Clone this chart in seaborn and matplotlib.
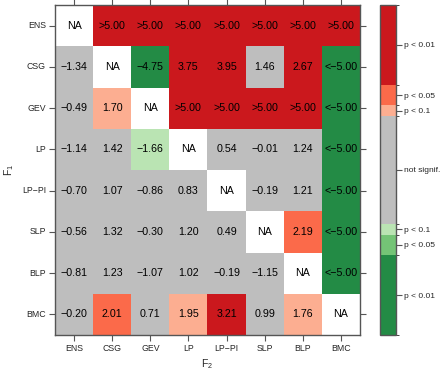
import numpy as np
import pandas as pd
import matplotlib
matplotlib.use('Agg')
import matplotlib.pyplot as plt
import seaborn as sns
from matplotlib.colors import ListedColormap, BoundaryNorm

# methods compared (rows = F1, columns = F2)
methods = ['ENS', 'CSG', 'GEV', 'LP', 'LP\u2212PI', 'SLP', 'BLP', 'BMC']

# test statistics, inf = ">5.00", -inf = "<-5.00", nan = NA
BIG = np.inf
z_ens = [np.nan, BIG, BIG, BIG, BIG, BIG, BIG, BIG]
z_csg = [-1.34, np.nan, -4.75, 3.75, 3.95, 1.46, 2.67, -BIG]
z_gev = [-0.49, 1.70, np.nan, BIG, BIG, BIG, BIG, -BIG]
z_lp = [-1.14, 1.42, -1.66, np.nan, 0.54, -0.01, 1.24, -BIG]
z_lppi = [-0.70, 1.07, -0.86, 0.83, np.nan, -0.19, 1.21, -BIG]
z_slp = [-0.56, 1.32, -0.30, 1.20, 0.49, np.nan, 2.19, -BIG]
z_blp = [-0.81, 1.23, -1.07, 1.02, -0.19, -1.15, np.nan, -BIG]
z_bmc = [-0.20, 2.01, 0.71, 1.95, 3.21, 0.99, 1.76, np.nan]

# colour classes by significance level
bounds = [-5, -2.576, -1.96, -1.645, 1.645, 1.96, 2.576, 5]
colors = ['#238B45', '#74C476', '#BAE4B3', '#BEBEBE', '#FCAE91', '#FB6A4A', '#CB181D']
cb_labels = ['p < 0.01', 'p < 0.05', 'p < 0.1', 'not signif.', 'p < 0.1', 'p < 0.05', 'p < 0.01']

df = pd.DataFrame([z_ens, z_csg, z_gev, z_lp, z_lppi, z_slp, z_blp, z_bmc],
                  index=methods, columns=methods)


def fmt(v):
    if np.isnan(v):
        return 'NA'
    if v > 5:
        return '>5.00'
    if v < -5:
        return '<\u22125.00'
    return ('%.2f' % v).replace('-', '\u2212')


labels = df.apply(lambda col: col.map(fmt))

sns.set_style('white')
plt.rcParams['font.family'] = ['Liberation Sans', 'DejaVu Sans']
plt.rcParams['mathtext.fontset'] = 'custom'
plt.rcParams['mathtext.rm'] = 'Liberation Sans'
plt.rcParams['mathtext.it'] = 'Liberation Sans'

fig = plt.figure(figsize=(4.41, 3.72), dpi=100)
ax = fig.add_axes([55 / 441, 37 / 372, 305 / 441, 330 / 372])
cax = fig.add_axes([380 / 441, 37 / 372, 16 / 441, 330 / 372])

cmap = ListedColormap(colors)
norm = BoundaryNorm(bounds, cmap.N)
sns.heatmap(df.clip(-5, 5), ax=ax, cbar_ax=cax, cmap=cmap, norm=norm,
            annot=labels.values, fmt='', annot_kws={'fontsize': 7.7, 'color': 'black'},
            cbar_kws={'spacing': 'proportional'})

# NA cells are masked by seaborn, so write them by hand
for i in range(len(methods)):
    for j in range(len(methods)):
        if np.isnan(df.iloc[i, j]):
            ax.text(j + 0.5, i + 0.5, 'NA', ha='center', va='center',
                    fontsize=7.7, color='black')

for s in ax.spines.values():
    s.set_visible(True)
    s.set_color('#555555')
    s.set_linewidth(1.0)
ax.tick_params(axis='both', which='both', length=4, width=0.8, color='#555555',
               labelsize=6.3, top=True, right=True, bottom=True, left=True,
               direction='out', pad=2.5)
ax.set_xticklabels(methods, rotation=0)
ax.set_yticklabels(methods, rotation=0)
ax.set_xlabel(r'$\mathrm{F}_2$', fontsize=7.5, labelpad=3)
ax.set_ylabel(r'$\mathrm{F}_1$', fontsize=7.5, labelpad=4)

mids = [(a + b) / 2 for a, b in zip(bounds[:-1], bounds[1:])]
cbar = ax.collections[0].colorbar
cbar.set_ticks(mids)
cbar.set_ticklabels(cb_labels)
cbar.ax.tick_params(labelsize=6.0, length=4, width=0.8, color='#555555', pad=2)
cbar.outline.set_edgecolor('#555555')
cbar.outline.set_linewidth(1.0)

fig.savefig('out.png', dpi=100)
